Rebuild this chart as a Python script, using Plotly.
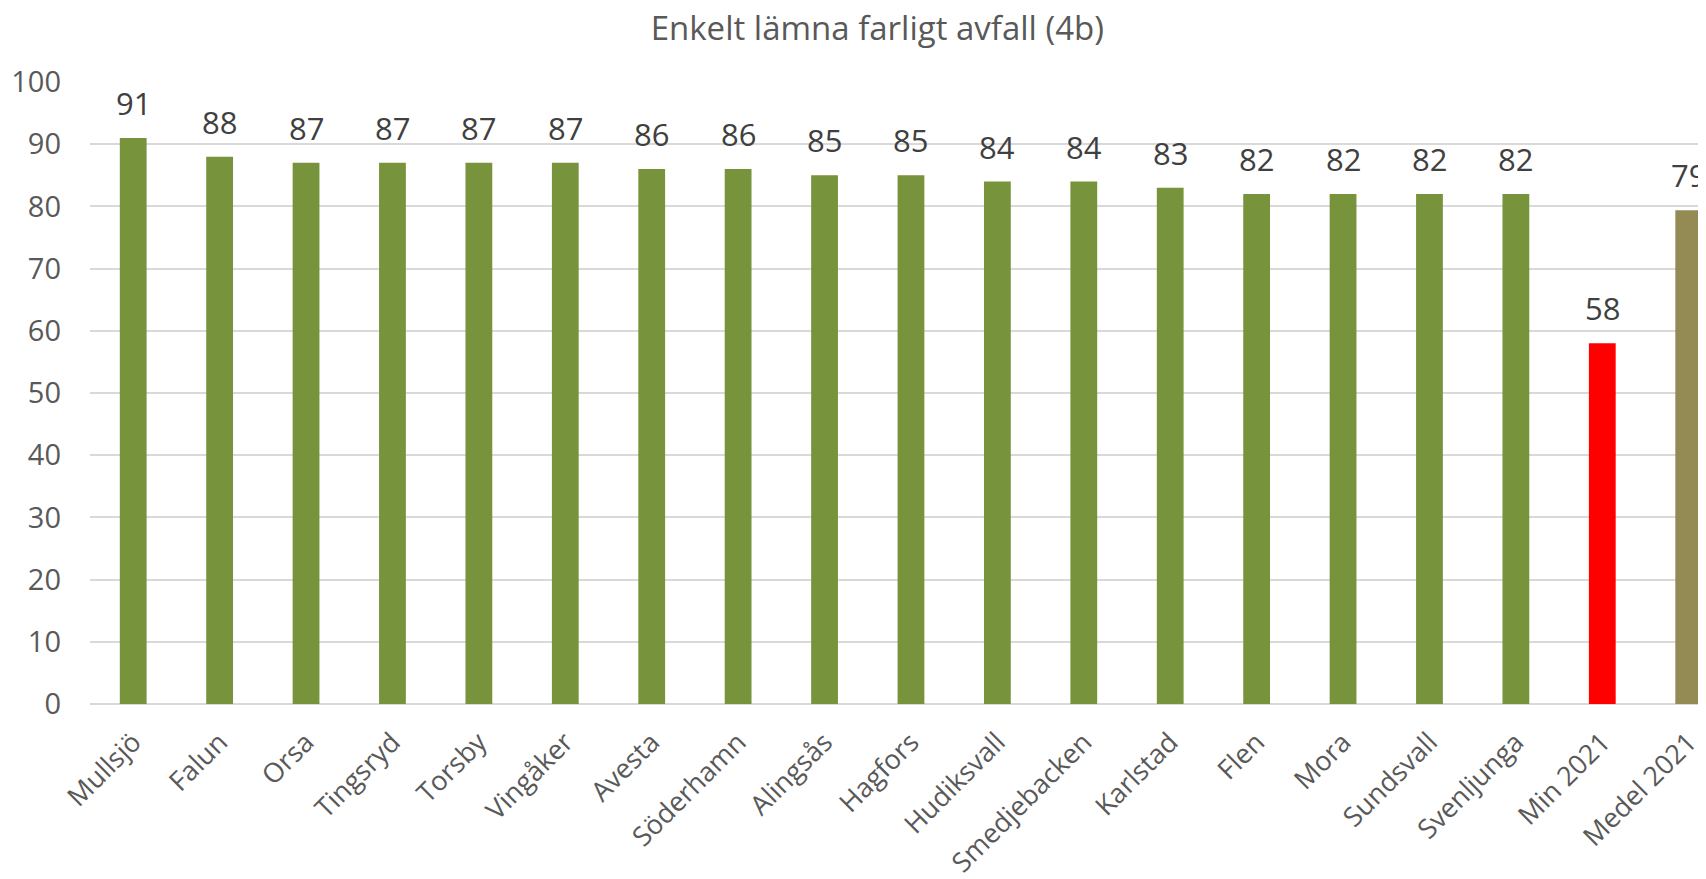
import plotly.graph_objects as go

categories = ["Mullsjö", "Falun", "Orsa", "Tingsryd", "Torsby", "Vingåker", "Avesta",
              "Söderhamn", "Alingsås", "Hagfors", "Hudiksvall", "Smedjebacken", "Karlstad",
              "Flen", "Mora", "Sundsvall", "Svenljunga", "Min 2021", "Medel 2021"]
values = [91, 88, 87, 87, 87, 87, 86, 86, 85, 85, 84, 84, 83, 82, 82, 82, 82, 58, 79.4]
labels = ["91", "88", "87", "87", "87", "87", "86", "86", "85", "85", "84", "84", "83",
          "82", "82", "82", "82", "58", "79"]
bar_colours = ["#77933C"] * 17 + ["#FF0000", "#948A54"]

fig = go.Figure()
fig.add_trace(go.Bar(
    x=categories,
    y=values,
    width=0.31,
    marker=dict(color=bar_colours, line=dict(width=0)),
    hoverinfo="x+y",
))

# data labels above the bars
for c, v, t in zip(categories, values, labels):
    fig.add_annotation(x=c, y=v, text=t, showarrow=False, yanchor="bottom",
                       yshift=12, font=dict(size=31, color="#404040"))

# the page body has an 8px margin, so the figure is 8px smaller on each side
fig.update_layout(
    width=1698, height=871,
    paper_bgcolor="white", plot_bgcolor="white",
    font=dict(family="Open Sans", color="#595959"),
    title=dict(text="Enkelt lämna farligt avfall (4b)", x=0.512, xanchor="center",
               y=0.976, yanchor="middle", font=dict(size=33, color="#595959")),
    margin=dict(l=82, r=0, t=74, b=175),
    showlegend=False,
    xaxis=dict(range=[-0.5, 18.2], tickangle=-45, tickfont=dict(size=27, color="#595959"),
               showline=False, showgrid=False, ticks="", automargin=False,
               ticklabelstandoff=16),
    yaxis=dict(range=[0, 100], dtick=10, tickfont=dict(size=29, color="#595959"),
               gridcolor="#D9D9D9", gridwidth=2, zeroline=True, zerolinecolor="#D9D9D9",
               zerolinewidth=2, ticks="", ticklabelstandoff=28, automargin=False),
)

fig.write_html("out.html")
